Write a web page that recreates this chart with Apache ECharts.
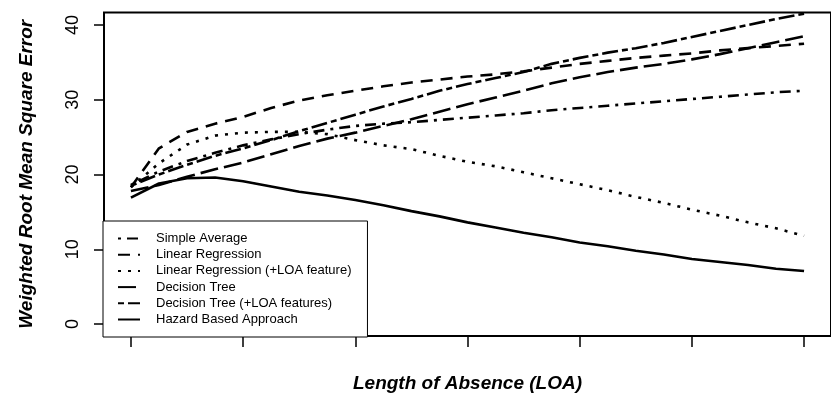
<!DOCTYPE html>
<html>
<head>
<meta charset="utf-8">
<script src="https://cdn.jsdelivr.net/npm/echarts@6/dist/echarts.min.js"></script>
<style>
  html, body { margin: 0; padding: 0; background: #fff; }
  #chart { width: 831px; height: 398px; }
</style>
</head>
<body>
<div id="chart"></div>
<script>
// Steps along the length-of-absence axis (unlabelled in the plot)
const loaStep = [0, 1, 2, 3, 4, 5, 6, 7, 8, 9, 10, 11, 12, 13, 14, 15, 16, 17, 18, 19, 20, 21, 22, 23, 24];
const xTicks = [0, 4, 8, 12, 16, 20, 24];
const yTicks = [0, 10, 20, 30, 40];

// Weighted RMSE per method
const simpleAverage = [18.6, 20.4, 21.8, 22.9, 23.9, 24.7, 25.4, 26.0, 26.5, 26.8, 27.0, 27.3, 27.6, 27.9, 28.2, 28.6, 28.9, 29.2, 29.5, 29.8, 30.1, 30.4, 30.7, 31.0, 31.2];
const linearRegression = [18.3, 23.5, 25.7, 26.8, 27.7, 28.9, 29.9, 30.6, 31.2, 31.8, 32.3, 32.7, 33.1, 33.4, 33.8, 34.3, 34.8, 35.2, 35.6, 35.9, 36.2, 36.6, 36.9, 37.2, 37.5];
const linearRegressionLoa = [18.3, 21.5, 24.0, 25.2, 25.6, 25.7, 25.7, 25.4, 24.6, 23.9, 23.4, 22.5, 21.7, 21.1, 20.3, 19.5, 18.7, 17.9, 17.0, 16.2, 15.3, 14.5, 13.6, 12.8, 11.8];
const decisionTree = [17.8, 18.6, 19.7, 20.7, 21.6, 22.7, 23.8, 24.8, 25.6, 26.5, 27.4, 28.4, 29.4, 30.3, 31.2, 32.2, 33.0, 33.7, 34.3, 34.8, 35.4, 36.1, 36.9, 37.7, 38.5];
const decisionTreeLoa = [18.5, 20.0, 21.3, 22.5, 23.5, 24.6, 25.8, 26.9, 28.0, 29.1, 30.1, 31.2, 32.1, 32.9, 33.7, 34.8, 35.6, 36.3, 36.9, 37.6, 38.4, 39.2, 40.0, 40.8, 41.5];
const hazardBased = [16.9, 18.8, 19.5, 19.6, 19.1, 18.4, 17.7, 17.2, 16.6, 15.9, 15.1, 14.4, 13.6, 12.9, 12.2, 11.6, 10.9, 10.4, 9.8, 9.3, 8.7, 8.3, 7.9, 7.4, 7.1];

const methodNames = [
  'Simple Average',
  'Linear Regression',
  'Linear Regression (+LOA feature)',
  'Decision Tree',
  'Decision Tree (+LOA features)',
  'Hazard Based Approach'
];
const methodValues = [simpleAverage, linearRegression, linearRegressionLoa, decisionTree, decisionTreeLoa, hazardBased];
// line dash patterns: dot-dash, dashed, dotted, long dash, two-dash, solid
const methodDash = [[3, 6, 11, 6], [12, 8], [3, 7], [18, 6], [6, 4, 16, 4], 'solid'];

const FONT = '"Liberation Sans", Arial, sans-serif';

const series = methodNames.map((name, i) => ({
  name: name,
  type: 'line',
  symbol: 'none',
  smooth: false,
  data: loaStep.map((x, k) => [x, methodValues[i][k]]),
  lineStyle: { color: '#000', width: 2.6, type: methodDash[i], cap: 'butt' },
  itemStyle: { color: '#000' },
  z: 2
}));

const chart = echarts.init(document.getElementById('chart'), null, { renderer: 'canvas' });
chart.setOption({
  animation: false,
  backgroundColor: '#fff',
  textStyle: { fontFamily: FONT, color: '#000' },
  grid: {
    left: 104, top: 12.5, width: 738.5, height: 324.5,
    show: true, borderColor: '#000', borderWidth: 2, backgroundColor: 'transparent'
  },
  legend: {
    orient: 'vertical',
    left: 103, top: 221,
    itemWidth: 22, itemHeight: 12, itemGap: 3.2,
    padding: [11, 16, 11, 14],
    backgroundColor: '#fff',
    borderColor: '#000', borderWidth: 1, borderRadius: 0,
    selectedMode: false,
    itemStyle: { opacity: 0 },
    textStyle: { fontFamily: FONT, fontSize: 13, color: '#000', padding: [0, 0, 0, 11] },
    data: methodNames
  },
  xAxis: {
    type: 'value',
    min: -0.96, max: 24.96,
    name: 'Length of Absence (LOA)',
    nameLocation: 'middle',
    nameGap: 38,
    nameTextStyle: { fontFamily: FONT, fontSize: 19, fontStyle: 'italic', fontWeight: 'bold', color: '#000' },
    axisLine: { show: false, onZero: false },
    axisTick: { show: true, length: 11, lineStyle: { color: '#000', width: 1.5 }, customValues: xTicks },
    axisLabel: { show: false },
    splitLine: { show: false }
  },
  yAxis: {
    type: 'value',
    min: -1.6, max: 41.67,
    name: 'Weighted Root Mean Square Error',
    nameLocation: 'middle',
    nameRotate: 90,
    nameGap: 68,
    nameTextStyle: { fontFamily: FONT, fontSize: 19, fontStyle: 'italic', fontWeight: 'bold', color: '#000' },
    axisLine: { show: false, onZero: false },
    axisTick: { show: true, length: 10, lineStyle: { color: '#000', width: 1.5 }, customValues: yTicks },
    axisLabel: { show: true, rotate: 90, margin: 22, fontFamily: FONT, fontSize: 18, color: '#000', customValues: yTicks },
    splitLine: { show: false }
  },
  series: series
});
</script>
</body>
</html>
